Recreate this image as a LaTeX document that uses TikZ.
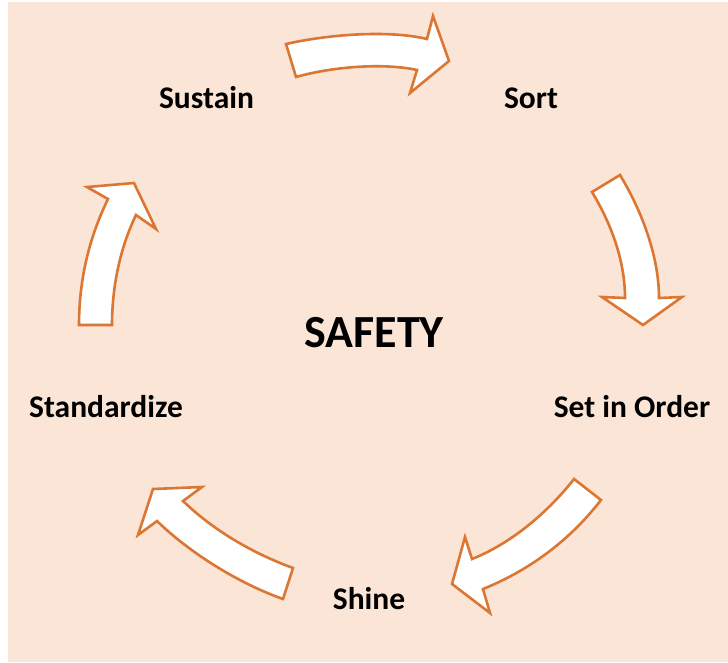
\documentclass[tikz,border=0pt]{standalone}
\usepackage{fontspec}
\setmainfont{Carlito}
\definecolor{bgpeach}{HTML}{FBE5D6}
\definecolor{arrowline}{HTML}{DC7633}
\tikzset{
  blockarrow/.style={draw=arrowline, fill=white, line width=2.6pt, line join=miter},
  label/.style={anchor=base, font=\fontsize{31.5}{36}\selectfont\bfseries, text=black, inner sep=0pt},
  title/.style={anchor=base, font=\fontsize{46}{52}\selectfont\bfseries, text=black, inner sep=0pt}
}
\begin{document}
\begin{tikzpicture}[x=1pt,y=-1pt]
\useasboundingbox (0,0) rectangle (728,662);
\fill[bgpeach] (8,2) rectangle (728,662);

% Arrow 1: Sustain -> Sort
\draw[blockarrow] (286,44) .. controls (330,34) and (390,30) .. (427,39)
  -- (433,16) -- (449,61) -- (410,93) -- (417,70)
  .. controls (385,63) and (335,66) .. (296,77) -- cycle;

% Arrow 2: Sort -> Set in Order
\draw[blockarrow] (620,175) .. controls (643,213) and (659,258) .. (659,298)
  -- (682,297) -- (643,325) -- (602,297) -- (625,298)
  .. controls (625,262) and (612,225) .. (592,192) -- cycle;

% Arrow 3: Set in Order -> Shine
\draw[blockarrow] (601,500) .. controls (570,540) and (530,570) .. (483,589)
  -- (490,613) -- (452,584) -- (465,537) -- (472,559)
  .. controls (512,543) and (548,512) .. (574,479) -- cycle;

% Arrow 4: Shine -> Standardize
\draw[blockarrow] (293,568) .. controls (252,553) and (213,530) .. (183,501)
  -- (202,487) -- (153,489) -- (138,535) -- (157,521)
  .. controls (190,553) and (238,583) .. (283,599) -- cycle;

% Arrow 5: Standardize -> Sustain
\draw[blockarrow] (79,325) .. controls (79,280) and (89,238) .. (108,199)
  -- (87,187) -- (134,183) -- (156,229) -- (136,215)
  .. controls (120,248) and (112,287) .. (112,325) -- cycle;

\node[label] (sustain) at (206.5,108) {Sustain};
\node[label] (sort) at (531,108) {Sort};
\node[label] (setinorder) at (632,417) {Set in Order};
\node[label] (shine) at (369,609) {Shine};
\node[label] (standardize) at (106,417) {Standardize};
\node[title] (safety) at (374,347) {SAFETY};
\end{tikzpicture}
\end{document}
